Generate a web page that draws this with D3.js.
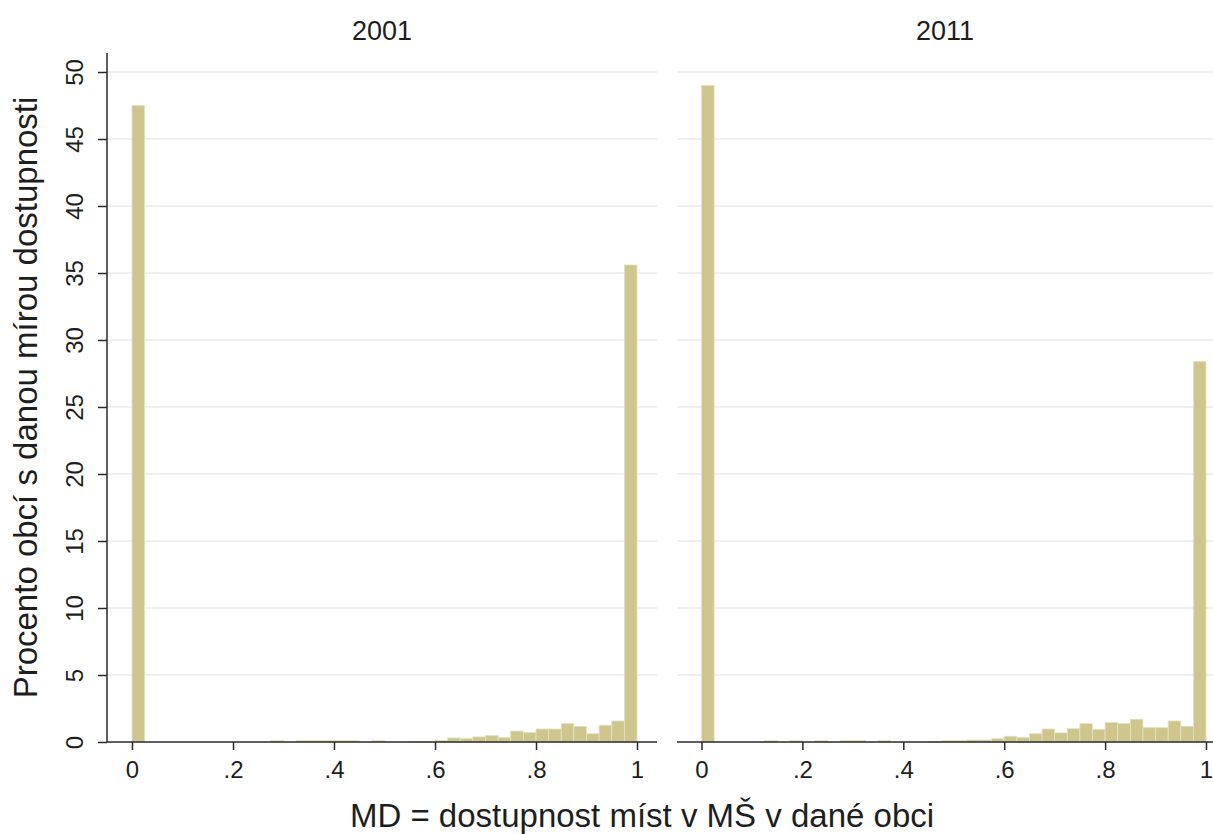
<!DOCTYPE html>
<html>
<head>
<meta charset="utf-8">
<script src="https://cdn.jsdelivr.net/npm/d3@7/dist/d3.min.js"></script>
<style>
  html, body { margin: 0; padding: 0; background: #fff; }
  svg { display: block; }
  text { font-family: "Liberation Sans", Arial, Helvetica, sans-serif; fill: #1e1e1e; }
</style>
</head>
<body>
<svg id="chart" width="1213" height="834"></svg>
<script>
// ---- data ----
const panelTitles = ["2001", "2011"];
const binStarts = [0, 0.025, 0.05, 0.075, 0.1, 0.125, 0.15, 0.175, 0.2, 0.225,
  0.25, 0.275, 0.3, 0.325, 0.35, 0.375, 0.4, 0.425, 0.45, 0.475,
  0.5, 0.525, 0.55, 0.575, 0.6, 0.625, 0.65, 0.675, 0.7, 0.725,
  0.75, 0.775, 0.8, 0.825, 0.85, 0.875, 0.9, 0.925, 0.95, 0.975];
const binWidth = 0.025;
const values2001 = [47.5, 0, 0, 0, 0, 0, 0, 0, 0, 0,
  0, 0.1, 0, 0.1, 0.1, 0.1, 0.1, 0.1, 0, 0.1,
  0, 0, 0.05, 0.05, 0.12, 0.3, 0.25, 0.38, 0.48, 0.33,
  0.82, 0.72, 0.97, 0.97, 1.37, 1.17, 0.62, 1.25, 1.57, 35.6];
const values2011 = [49.0, 0, 0, 0, 0, 0.1, 0, 0.1, 0, 0.1,
  0, 0.1, 0.1, 0, 0.1, 0, 0, 0, 0.05, 0.1,
  0.1, 0.15, 0.15, 0.25, 0.43, 0.33, 0.62, 0.97, 0.68, 1.0,
  1.37, 0.95, 1.45, 1.37, 1.7, 1.07, 1.07, 1.57, 1.17, 28.4];
const xTicks = [0, 0.2, 0.4, 0.6, 0.8, 1];
const xTickLabels = ["0", ".2", ".4", ".6", ".8", "1"];
const yTicks = [0, 5, 10, 15, 20, 25, 30, 35, 40, 45, 50];
const yTitle = "Procento obcí s danou mírou dostupnosti";
const xTitle = "MD = dostupnost míst v MŠ v dané obci";

// ---- layout ----
const svg = d3.select("#chart");
const barFill = "#cec68d";
const barStroke = "#e6e1c2";
const gridColor = "#ebebeb";
const axisColor = "#2a2a2a";

const plotTop = 53, plotBottom = 742;
const y = d3.scaleLinear().domain([0, 50]).range([742, 72]);

const panels = [
  { title: panelTitles[0], values: values2001, left: 107, right: 657, x0: 132, x1: 637, yAxis: true },
  { title: panelTitles[1], values: values2011, left: 677, right: 1227, x0: 701.5, x1: 1206, yAxis: false }
];

panels.forEach(p => {
  const x = d3.scaleLinear().domain([0, 1]).range([p.x0, p.x1]);
  const g = svg.append("g");

  // grid
  g.selectAll("line.grid").data(yTicks.filter(d => d > 0)).join("line")
    .attr("x1", p.left).attr("x2", p.right)
    .attr("y1", d => y(d)).attr("y2", d => y(d))
    .attr("stroke", gridColor).attr("stroke-width", 1.5);

  // bars
  g.selectAll("rect.bar").data(binStarts.map((s, i) => ({ s, v: p.values[i] })).filter(d => d.v > 0))
    .join("rect")
    .attr("x", d => x(d.s))
    .attr("width", d => x(d.s + binWidth) - x(d.s))
    .attr("y", d => y(d.v))
    .attr("height", d => y(0) - y(d.v))
    .attr("fill", barFill)
    .attr("stroke", barStroke)
    .attr("stroke-width", 0.8);

  // x axis
  const xAxis = d3.axisBottom(x).tickValues(xTicks)
    .tickFormat((d, i) => xTickLabels[i]).tickSize(8).tickSizeOuter(0).tickPadding(11);
  const xg = g.append("g").attr("transform", `translate(0,${plotBottom})`).call(xAxis);
  xg.select(".domain").remove();
  xg.append("line").attr("x1", p.left).attr("x2", p.right).attr("y1", 0).attr("y2", 0)
    .attr("stroke", axisColor).attr("stroke-width", 1.5);
  xg.selectAll(".tick line").attr("stroke", axisColor).attr("stroke-width", 1.5);
  xg.selectAll(".tick text").attr("font-size", 24).attr("fill", "#1e1e1e")
    .style("font-family", '"Liberation Sans", Arial, sans-serif');

  // y axis
  if (p.yAxis) {
    const yAxis = d3.axisLeft(y).tickValues(yTicks).tickSize(9).tickSizeOuter(0).tickPadding(0).tickFormat(d3.format("d"));
    const yg = g.append("g").attr("transform", `translate(${p.left},0)`).call(yAxis);
    yg.select(".domain").remove();
    yg.append("line").attr("x1", 0).attr("x2", 0).attr("y1", plotTop).attr("y2", plotBottom)
      .attr("stroke", axisColor).attr("stroke-width", 1.5);
    yg.selectAll(".tick line").attr("stroke", axisColor).attr("stroke-width", 1.5);
    yg.selectAll(".tick text")
      .attr("x", null).attr("dy", null)
      .attr("text-anchor", "middle")
      .attr("transform", `translate(${83 - p.left},0) rotate(-90)`)
      .attr("font-size", 24).attr("fill", "#1e1e1e")
      .style("font-family", '"Liberation Sans", Arial, sans-serif');
  }

  // panel title
  svg.append("text")
    .attr("x", (p.left + Math.min(p.right, 1213)) / 2).attr("y", 40)
    .attr("text-anchor", "middle").attr("font-size", 27)
    .text(p.title);
});

// axis titles
svg.append("text")
  .attr("transform", `translate(37,${(plotTop + plotBottom) / 2}) rotate(-90)`)
  .attr("text-anchor", "middle").attr("font-size", 33)
  .text(yTitle);

svg.append("text")
  .attr("x", 642).attr("y", 827)
  .attr("text-anchor", "middle").attr("font-size", 33)
  .text(xTitle);
</script>
</body>
</html>
